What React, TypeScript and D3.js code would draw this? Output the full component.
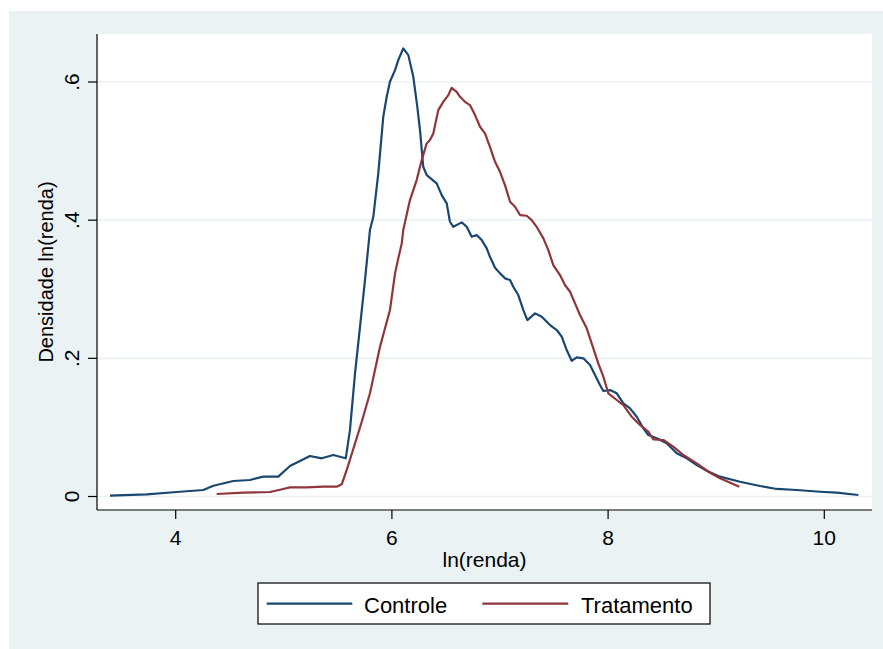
import React from "react";
import * as d3 from "d3";

// Kernel density of ln(renda) — Controle (blue)
const controleX = [3.392, 3.732, 4.009, 4.255, 4.348, 4.533, 4.687, 4.810, 4.949, 5.057, 5.242, 5.351, 5.458, 5.573, 5.612, 5.659, 5.705, 5.751, 5.797, 5.828, 5.874, 5.920, 5.952, 5.982, 6.029, 6.059, 6.105, 6.152, 6.198, 6.235, 6.260, 6.290, 6.322, 6.414, 6.461, 6.507, 6.537, 6.568, 6.646, 6.692, 6.738, 6.784, 6.831, 6.877, 6.907, 6.954, 7.000, 7.046, 7.093, 7.123, 7.169, 7.216, 7.253, 7.324, 7.386, 7.463, 7.525, 7.571, 7.617, 7.663, 7.710, 7.771, 7.833, 7.879, 7.925, 7.956, 8.018, 8.080, 8.141, 8.203, 8.265, 8.326, 8.372, 8.450, 8.542, 8.635, 8.727, 8.820, 8.912, 9.035, 9.220, 9.405, 9.560, 9.745, 9.960, 10.115, 10.315];
const controleY = [0.0012, 0.0032, 0.0065, 0.0094, 0.0156, 0.0224, 0.0239, 0.0287, 0.0287, 0.0441, 0.0586, 0.0553, 0.0601, 0.0553, 0.0962, 0.1787, 0.2457, 0.3133, 0.3857, 0.4049, 0.4677, 0.5496, 0.5786, 0.6003, 0.6172, 0.6317, 0.6486, 0.6389, 0.6075, 0.5641, 0.5304, 0.4773, 0.4653, 0.4533, 0.4363, 0.4243, 0.3977, 0.3904, 0.3968, 0.3904, 0.3760, 0.3784, 0.3712, 0.3592, 0.3470, 0.3311, 0.3230, 0.3158, 0.3133, 0.3036, 0.2916, 0.2699, 0.2554, 0.2651, 0.2602, 0.2482, 0.2410, 0.2313, 0.2120, 0.1965, 0.2014, 0.2000, 0.1903, 0.1758, 0.1614, 0.1527, 0.1541, 0.1494, 0.1349, 0.1276, 0.1155, 0.0987, 0.0890, 0.0842, 0.0770, 0.0625, 0.0553, 0.0456, 0.0373, 0.0287, 0.0214, 0.0152, 0.0109, 0.0094, 0.0069, 0.0055, 0.0022];

// Tratamento (red)
const tratamentoX = [4.379, 4.625, 4.872, 4.995, 5.057, 5.212, 5.365, 5.489, 5.536, 5.582, 5.659, 5.721, 5.797, 5.890, 5.982, 6.029, 6.059, 6.091, 6.105, 6.167, 6.229, 6.276, 6.322, 6.352, 6.383, 6.429, 6.475, 6.522, 6.553, 6.599, 6.630, 6.676, 6.722, 6.769, 6.815, 6.861, 6.907, 6.954, 7.000, 7.046, 7.093, 7.139, 7.185, 7.247, 7.293, 7.339, 7.401, 7.447, 7.493, 7.555, 7.601, 7.648, 7.694, 7.740, 7.802, 7.848, 7.909, 7.956, 8.002, 8.080, 8.141, 8.218, 8.295, 8.372, 8.418, 8.511, 8.603, 8.696, 8.820, 8.943, 9.035, 9.214];
const tratamentoY = [0.0036, 0.0055, 0.0065, 0.0109, 0.0133, 0.0133, 0.0142, 0.0142, 0.0177, 0.0384, 0.0770, 0.1082, 0.1494, 0.2168, 0.2699, 0.3230, 0.3447, 0.3664, 0.3857, 0.4291, 0.4580, 0.4870, 0.5111, 0.5159, 0.5256, 0.5593, 0.5713, 0.5810, 0.5916, 0.5858, 0.5786, 0.5713, 0.5666, 0.5521, 0.5352, 0.5256, 0.5062, 0.4845, 0.4700, 0.4508, 0.4266, 0.4194, 0.4074, 0.4064, 0.4001, 0.3904, 0.3737, 0.3567, 0.3350, 0.3206, 0.3061, 0.2964, 0.2796, 0.2627, 0.2434, 0.2217, 0.1928, 0.1734, 0.1494, 0.1397, 0.1324, 0.1155, 0.1035, 0.0938, 0.0828, 0.0818, 0.0721, 0.0601, 0.0480, 0.0344, 0.0263, 0.0142];

const xTicks = [4, 6, 8, 10];
const yTicks = [0, 0.2, 0.4, 0.6];
const yTickLabels = ["0", ".2", ".4", ".6"];
const seriesNames = ["Controle", "Tratamento"];
const seriesColors = ["#1a476f", "#90353b"];

export default function App() {
  const W = 883, H = 649;
  const left = 97, right = 872, top = 34, bottom = 510;
  const x = d3.scaleLinear().domain([4, 10]).range([175.7, 824.3]);
  const y = d3.scaleLinear().domain([0, 0.6]).range([496.5, 82]);
  const line = d3.line<[number, number]>().x(d => x(d[0])).y(d => y(d[1]));
  const series = [
    controleX.map((v, i) => [v, controleY[i]] as [number, number]),
    tratamentoX.map((v, i) => [v, tratamentoY[i]] as [number, number]),
  ];
  const font = "'Liberation Sans', Arial, Helvetica, sans-serif";
  const bg = "#EAF2F3";
  return (
    <svg width={W} height={H} style={{ position: "absolute", left: 0, top: 0, fontFamily: font }}>
      <rect x={0} y={0} width={W} height={H} fill="#ffffff" />
      <rect x={9} y={11} width={W - 9} height={H - 11} fill={bg} />
      <rect x={left} y={top} width={right - left} height={bottom - top} fill="#ffffff" />
      {yTicks.map((t, i) => (
        <line key={"g" + i} x1={left} x2={right} y1={y(t)} y2={y(t)} stroke={bg} strokeWidth={1.6} />
      ))}
      {series.map((s, i) => (
        <path key={"s" + i} d={line(s) || ""} fill="none" stroke={seriesColors[i]} strokeWidth={2.2} strokeLinejoin="round" />
      ))}
      {/* axes */}
      <line x1={left} x2={left} y1={top} y2={bottom} stroke="#000" strokeWidth={1.2} />
      <line x1={left} x2={right} y1={bottom} y2={bottom} stroke="#000" strokeWidth={1.2} />
      {yTicks.map((t, i) => (
        <g key={"yt" + i}>
          <line x1={left - 9} x2={left} y1={y(t)} y2={y(t)} stroke="#000" strokeWidth={1.2} />
          <text transform={`translate(79,${y(t)}) rotate(-90)`} textAnchor="middle" fontSize={21} fill="#000">
            {yTickLabels[i]}
          </text>
        </g>
      ))}
      {xTicks.map((t, i) => (
        <g key={"xt" + i}>
          <line x1={x(t)} x2={x(t)} y1={bottom} y2={bottom + 9} stroke="#000" strokeWidth={1.2} />
          <text x={x(t)} y={545} textAnchor="middle" fontSize={21} fill="#000">{t}</text>
        </g>
      ))}
      <text x={(left + right) / 2} y={567} textAnchor="middle" fontSize={21} fill="#000">ln(renda)</text>
      <text transform={`translate(53,${(top + bottom) / 2}) rotate(-90)`} textAnchor="middle" fontSize={20} fill="#000">
        Densidade ln(renda)
      </text>
      {/* legend */}
      <rect x={258} y={583} width={452} height={41} fill="#ffffff" stroke="#000" strokeWidth={1.2} />
      <line x1={266.7} x2={352.3} y1={603.7} y2={603.7} stroke={seriesColors[0]} strokeWidth={2.2} />
      <text x={364} y={613} fontSize={22} fill="#000">{seriesNames[0]}</text>
      <line x1={482.3} x2={568.3} y1={603.7} y2={603.7} stroke={seriesColors[1]} strokeWidth={2.2} />
      <text x={581} y={613} fontSize={22} fill="#000">{seriesNames[1]}</text>
    </svg>
  );
}
